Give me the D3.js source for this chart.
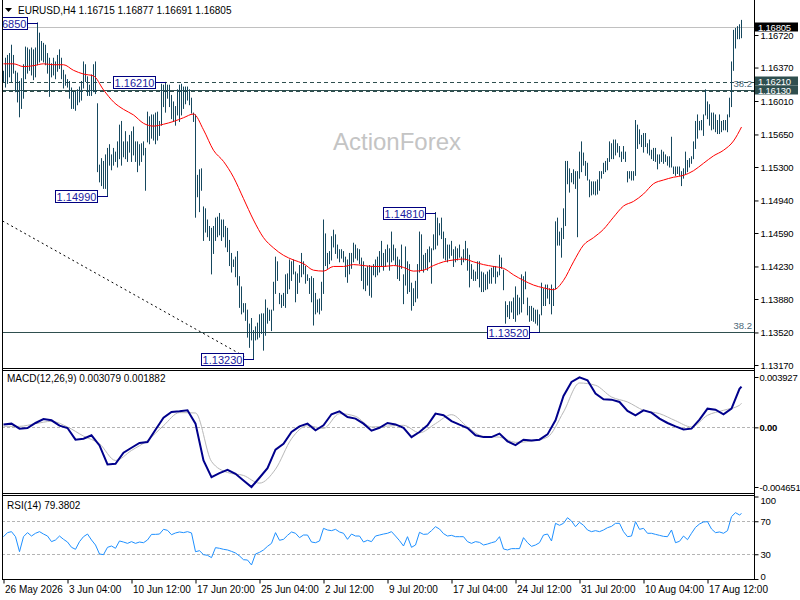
<!DOCTYPE html>
<html>
<head>
<meta charset="utf-8">
<script src="https://cdn.jsdelivr.net/npm/d3@7"></script>
<style>
  body { margin: 0; background: #fff; }
  text { font-family: "Liberation Sans", Arial, sans-serif; }
</style>
</head>
<body>
<div id="chart"></div>
<script>
// EURUSD H4 bars, one per 4 hours
var barHigh = [
  1.1633,1.1647,1.1650,1.1652,1.1661,1.1650,1.1633,1.1631,1.1622,1.1625,
  1.1640,1.1659,1.1658,1.1656,1.1658,1.1656,1.1658,1.1685,1.1674,1.1665,
  1.1663,1.1661,1.1652,1.1647,1.1641,1.1647,1.1643,1.1650,1.1656,1.1647,
  1.1634,1.1629,1.1624,1.1622,1.1615,1.1611,1.1611,1.1613,1.1616,1.1622,
  1.1643,1.1640,1.1627,1.1618,1.1629,1.1640,1.1643,1.1598,1.1532,1.1539,
  1.1536,1.1543,1.1550,1.1554,1.1543,1.1550,1.1546,1.1557,1.1575,1.1579,
  1.1557,1.1568,1.1557,1.1564,1.1568,1.1573,1.1557,1.1557,1.1554,1.1555,
  1.1557,1.1550,1.1589,1.1584,1.1586,1.1586,1.1588,1.1589,1.1579,1.1619,
  1.1618,1.1621,1.1618,1.1618,1.1607,1.1600,1.1595,1.1613,1.1618,1.1619,
  1.1616,1.1616,1.1616,1.1613,1.1604,1.1588,1.1586,1.1521,1.1527,1.1528,
  1.1487,1.1485,1.1473,1.1466,1.1464,1.1466,1.1475,1.1476,1.1480,1.1473,
  1.1473,1.1466,1.1464,1.1451,1.1437,1.1430,1.1433,1.1439,1.1412,1.1401,
  1.1383,1.1383,1.1376,1.1361,1.1367,1.1354,1.1358,1.1362,1.1371,1.1372,
  1.1372,1.1387,1.1378,1.1376,1.1376,1.1406,1.1433,1.1428,1.1394,1.1392,
  1.1394,1.1414,1.1415,1.1430,1.1428,1.1430,1.1417,1.1415,1.1424,1.1437,
  1.1428,1.1423,1.1414,1.1410,1.1412,1.1410,1.1394,1.1387,1.1388,1.1406,
  1.1473,1.1458,1.1437,1.1439,1.1455,1.1462,1.1457,1.1446,1.1441,1.1441,
  1.1439,1.1433,1.1430,1.1437,1.1437,1.1448,1.1446,1.1442,1.1441,1.1432,
  1.1428,1.1421,1.1423,1.1424,1.1423,1.1425,1.1430,1.1433,1.1439,1.1450,
  1.1437,1.1441,1.1446,1.1442,1.1460,1.1446,1.1442,1.1433,1.1430,1.1446,
  1.1414,1.1444,1.1428,1.1425,1.1405,1.1399,1.1407,1.1425,1.1460,1.1457,
  1.1435,1.1437,1.1441,1.1444,1.1442,1.1457,1.1481,1.1475,1.1469,1.1475,
  1.1460,1.1453,1.1446,1.1446,1.1450,1.1441,1.1444,1.1442,1.1446,1.1433,
  1.1441,1.1450,1.1442,1.1435,1.1425,1.1419,1.1417,1.1428,1.1428,1.1417,
  1.1416,1.1414,1.1417,1.1419,1.1421,1.1423,1.1423,1.1417,1.1435,1.1432,
  1.1419,1.1385,1.1381,1.1385,1.1385,1.1389,1.1401,1.1392,1.1389,1.1414,
  1.1412,1.1417,1.1389,1.1380,1.1380,1.1378,1.1376,1.1376,1.1371,1.1405,
  1.1399,1.1403,1.1403,1.1399,1.1403,1.1399,1.1471,1.1475,1.1460,1.1464,
  1.1485,1.1536,1.1536,1.1528,1.1523,1.1527,1.1525,1.1525,1.1546,1.1557,
  1.1545,1.1536,1.1534,1.1516,1.1514,1.1514,1.1514,1.1516,1.1525,1.1525,
  1.1534,1.1536,1.1539,1.1557,1.1555,1.1559,1.1559,1.1555,1.1552,1.1546,
  1.1552,1.1546,1.1525,1.1525,1.1525,1.1525,1.1580,1.1575,1.1570,1.1564,
  1.1566,1.1566,1.1555,1.1559,1.1548,1.1550,1.1550,1.1543,1.1543,1.1548,
  1.1546,1.1543,1.1541,1.1541,1.1562,1.1530,1.1530,1.1530,1.1530,1.1525,
  1.1528,1.1546,1.1537,1.1539,1.1541,1.1557,1.1579,1.1586,1.1579,1.1580,
  1.1586,1.1613,1.1600,1.1597,1.1588,1.1588,1.1586,1.1580,1.1586,1.1579,
  1.1580,1.1580,1.1586,1.1604,1.1643,1.1677,1.1679,1.1681,1.1683,1.16877
];
var barLow = [
  1.1622,1.1616,1.1620,1.1627,1.1622,1.1631,1.1611,1.1600,1.1584,1.1593,
  1.1604,1.1625,1.1631,1.1634,1.1629,1.1624,1.1627,1.1640,1.1643,1.1645,
  1.1643,1.1640,1.1631,1.1606,1.1627,1.1629,1.1625,1.1633,1.1636,1.1625,
  1.1615,1.1618,1.1616,1.1604,1.1593,1.1593,1.1591,1.1597,1.1600,1.1602,
  1.1615,1.1622,1.1607,1.1607,1.1607,1.1611,1.1609,1.1525,1.1514,1.1510,
  1.1507,1.1507,1.1499,1.1532,1.1527,1.1532,1.1536,1.1530,1.1539,1.1532,
  1.1541,1.1539,1.1536,1.1546,1.1536,1.1543,1.1536,1.1525,1.1532,1.1536,
  1.1543,1.1505,1.1557,1.1555,1.1561,1.1559,1.1555,1.1559,1.1564,1.1575,
  1.1595,1.1589,1.1604,1.1595,1.1582,1.1579,1.1575,1.1586,1.1579,1.1586,
  1.1593,1.1598,1.1602,1.1597,1.1588,1.1579,1.1476,1.1498,1.1482,1.1505,
  1.1451,1.1460,1.1455,1.1451,1.1415,1.1437,1.1451,1.1455,1.1457,1.1451,
  1.1455,1.1444,1.1439,1.1424,1.1417,1.1423,1.1412,1.1403,1.1379,1.1372,
  1.1374,1.1365,1.1347,1.1336,1.1344,1.1323,1.1344,1.1345,1.1347,1.1351,
  1.1333,1.1349,1.1362,1.1365,1.1354,1.1376,1.1394,1.1408,1.1383,1.1379,
  1.1381,1.1379,1.1394,1.1399,1.1408,1.1415,1.1385,1.1394,1.1406,1.1412,
  1.1415,1.1405,1.1408,1.1394,1.1385,1.1360,1.1372,1.1374,1.1372,1.1376,
  1.1394,1.1424,1.1421,1.1426,1.1430,1.1444,1.1437,1.1432,1.1428,1.1432,
  1.1428,1.1412,1.1406,1.1415,1.1421,1.1428,1.1432,1.1430,1.1426,1.1408,
  1.1399,1.1397,1.1403,1.1392,1.1390,1.1414,1.1412,1.1414,1.1417,1.1423,
  1.1419,1.1423,1.1428,1.1419,1.1428,1.1430,1.1425,1.1410,1.1408,1.1421,
  1.1383,1.1403,1.1394,1.1396,1.1376,1.1381,1.1385,1.1389,1.1417,1.1419,
  1.1417,1.1421,1.1419,1.1428,1.1405,1.1441,1.1442,1.1446,1.1457,1.1453,
  1.1432,1.1430,1.1428,1.1432,1.1435,1.1423,1.1428,1.1430,1.1433,1.1425,
  1.1428,1.1430,1.1419,1.1401,1.1410,1.1408,1.1408,1.1410,1.1401,1.1396,
  1.1396,1.1398,1.1399,1.1405,1.1405,1.1412,1.1405,1.1412,1.1414,1.1421,
  1.1398,1.1362,1.1369,1.1367,1.1374,1.1367,1.1364,1.1371,1.1372,1.1374,
  1.1383,1.1399,1.1371,1.1364,1.1365,1.1364,1.1362,1.1360,1.1352,1.1371,
  1.1381,1.1381,1.1389,1.1383,1.1372,1.1381,1.1399,1.1446,1.1446,1.1433,
  1.1453,1.1467,1.1512,1.1503,1.1514,1.1512,1.1507,1.1455,1.1518,1.1525,
  1.1532,1.1521,1.1516,1.1498,1.1500,1.1501,1.1500,1.1501,1.1505,1.1518,
  1.1523,1.1525,1.1527,1.1536,1.1539,1.1539,1.1543,1.1546,1.1541,1.1536,
  1.1539,1.1536,1.1514,1.1518,1.1516,1.1516,1.1521,1.1550,1.1555,1.1552,
  1.1546,1.1552,1.1545,1.1543,1.1539,1.1537,1.1536,1.1528,1.1534,1.1536,
  1.1534,1.1536,1.1532,1.1530,1.1530,1.1523,1.1521,1.1523,1.1521,1.1510,
  1.1518,1.1523,1.1525,1.1530,1.1534,1.1539,1.1550,1.1561,1.1570,1.1570,
  1.1564,1.1586,1.1582,1.1575,1.1570,1.1571,1.1568,1.1566,1.1566,1.1568,
  1.1570,1.1570,1.1568,1.1584,1.1595,1.1634,1.1658,1.1668,1.1668,1.16691
];

// red moving average, one reading every 5 bars (last one = last bar)
var maStep = 5;
var maLine = [
  1.1641,1.1641,1.1638,1.1639,1.1641,1.1640,1.1640,1.1634,1.1630,1.1628,
  1.1613,1.1600,1.1592,1.1586,1.1577,1.1574,1.1576,1.1579,1.1583,1.1587,
  1.1570,1.1548,1.1536,1.1519,1.1496,1.1473,1.1454,1.1443,1.1435,1.1430,
  1.1426,1.1419,1.1418,1.1423,1.1423,1.1425,1.1424,1.1423,1.1423,1.1424,
  1.1422,1.1418,1.1419,1.1424,1.1428,1.1430,1.1431,1.1428,1.1425,1.1423,
  1.1421,1.1414,1.1408,1.1403,1.1400,1.1398,1.1408,1.1428,1.1446,1.1454,
  1.1463,1.1476,1.1488,1.1493,1.1501,1.1512,1.1516,1.1519,1.1521,1.1526,
  1.1534,1.1542,1.1548,1.1558,1.1573
];

// MACD main every 4 bars, signal every 8 bars
var macdStep = 4;
var macdMain = [
  0.00023,0.00029,-0.00010,-0.00005,0.00034,0.00065,0.00055,0.00013,-0.00005,-0.00096,
  -0.00089,-0.00062,-0.00141,-0.00289,-0.00284,-0.00198,-0.00159,-0.00122,-0.00115,-0.00018,
  0.00076,0.00120,0.00125,0.00133,0.00029,-0.00258,-0.00388,-0.00357,-0.00331,-0.00362,
  -0.00414,-0.00465,-0.00393,-0.00318,-0.00174,-0.00128,-0.00036,0.00008,0.00029,-0.00023,
  0.00016,0.00102,0.00125,0.00081,0.00068,0.00029,-0.00026,-0.00003,0.00034,0.00023,
  -0.00003,-0.00076,-0.00036,0.00016,0.00107,0.00094,0.00049,0.00021,-0.00005,-0.00062,
  -0.00076,-0.00076,-0.00049,-0.00109,-0.00138,-0.00096,-0.00102,-0.00096,-0.00055,0.00055,
  0.00245,0.00354,0.00390,0.00367,0.00263,0.00219,0.00216,0.00198,0.00128,0.00094,
  0.00133,0.00115,0.00068,0.00034,0.00008,-0.00016,-0.00010,0.00060,0.00146,0.00138,
  0.00102,0.00146,0.00300,0.00318
];
var signalStep = 8;
var macdSignal = [
  0.00008,0.00008,0.00029,0.00047,0.00003,-0.00068,-0.00128,-0.00258,-0.00180,-0.00102,
  0.00013,0.00115,0.00112,-0.00266,-0.00352,-0.00375,-0.00435,-0.00326,-0.00089,0.00013,
  -0.00008,0.00107,0.00086,0.00003,0.00010,0.00016,-0.00042,0.00029,0.00099,0.00003,
  -0.00070,-0.00076,-0.00117,-0.00107,-0.00076,0.00120,0.00346,0.00328,0.00237,0.00198,
  0.00133,0.00107,0.00052,0.00003,0.00094,0.00133,0.00172,0.00188
];

// RSI(14) every 2 bars
var rsiStep = 2;
var rsiVals = [
  51.3,56.2,57.4,51.3,33.1,51.3,56.2,52.1,55.4,57.4,
  54.5,52.1,45.3,47.3,52.1,48.1,44.8,38.4,36.0,45.3,
  51.3,54.5,47.3,41.2,30.3,29.5,38.4,40.0,37.2,46.1,
  44.8,43.2,45.3,43.2,44.8,44.0,47.3,54.1,54.1,54.5,
  60.2,59.0,53.7,55.8,57.0,56.2,57.4,55.8,33.1,34.3,
  29.5,28.7,25.9,38.0,37.2,36.0,35.2,33.5,31.5,27.9,
  23.4,23.0,17.0,30.3,32.3,35.2,39.6,43.2,56.2,46.9,
  48.1,52.9,57.0,55.4,50.1,53.3,53.3,44.8,44.0,46.1,
  61.4,59.4,58.6,60.2,57.0,55.4,48.1,54.5,52.1,52.1,
  44.8,46.9,45.3,52.1,53.3,54.5,55.4,57.4,52.1,46.5,
  40.0,51.3,38.4,41.2,56.6,54.1,54.5,58.6,63.4,60.6,
  55.0,52.1,52.9,51.3,51.3,51.3,45.3,43.2,45.3,44.4,
  41.2,42.4,44.0,45.3,51.3,36.4,35.2,36.8,36.8,36.8,
  50.1,44.0,39.6,41.2,44.0,53.3,54.5,46.1,67.5,65.1,
  67.5,74.3,70.3,63.4,68.7,65.1,59.4,57.4,58.6,57.4,
  59.4,62.2,63.8,67.5,67.5,57.4,51.3,52.1,69.5,60.2,
  61.4,55.4,55.4,54.1,52.9,51.7,51.3,59.4,44.0,45.7,
  52.1,47.7,55.4,62.6,66.7,69.1,69.5,60.6,56.2,57.0,
  55.4,58.6,75.6,80.4,77.6,79.38
];

var priceTicks = [1.1672, 1.1637, 1.1601, 1.1565, 1.1530, 1.1494, 1.1459, 1.1423, 1.1388, 1.1352, 1.1317];
var macdTicks = [0.003927, 0, -0.004651];
var macdTickLabels = ["0.003927", "0.00", "-0.004651"];
var rsiTicks = [100, 70, 30, 0];
var timeTickBars = [0, 32, 64, 96, 128, 160, 192, 224, 256, 288, 320, 352];
var timeTickLabels = ["26 May 2026", "3 Jun 04:00", "10 Jun 12:00", "17 Jun 20:00", "25 Jun 04:00", "2 Jul 12:00",
  "9 Jul 20:00", "17 Jul 04:00", "24 Jul 12:00", "31 Jul 20:00", "10 Aug 04:00", "17 Aug 12:00"];

// swing high / low tags
var markBars = [17, 81, 52, 125, 216, 268];
var markPrices = [1.1685, 1.1621, 1.1499, 1.1323, 1.1481, 1.1352];
var markLabels = ["1.16850", "1.16210", "1.14990", "1.13230", "1.14810", "1.13520"];

// drawn objects
var trendBars = [0, 121];
var trendPrices = [1.1472, 1.13256];
var solidLevels = [1.1613, 1.1352];
var dashedLevels = [1.1621, 1.1613];
var fiboLevels = [1.1621, 1.1352];
var bidPrice = 1.16805;
var rightTags = [1.16805, 1.1621, 1.1613];
var rightTagText = ["1.16805", "1.16210", "1.16130"];

var headerSymbol = "EURUSD,H4";
var headerOHLC = "1.16715 1.16877 1.16691 1.16805";
var macdTitle = "MACD(12,26,9) 0.003079 0.001882";
var rsiTitle = "RSI(14) 79.3802";


var W = 800, H = 600;
var left = 2, right = 754;
var mainBot = 368, macdTop = 370, macdBot = 493, rsiTop = 495, rsiBot = 579;
var barColor = "#16485e";
var axisFont = 9.5;

var svg = d3.select("#chart").append("svg")
  .attr("width", W).attr("height", H)
  .style("display", "block");

var lastBar = barHigh.length - 1;
var x = d3.scaleLinear().domain([0, lastBar]).range([3.5, 3.5 + 2 * lastBar]);
var y = d3.scaleLinear().domain([1.1317, 1.1672]).range([365, 35]);
var yM = d3.scaleLinear().domain([-0.004651, 0.003927]).range([487, 377]);
var yR = d3.scaleLinear().domain([0, 100]).range([579, 496.5]);

// step arrays -> [barIndex, value]
const stepped = (arr, step) => arr.map((v, k) => [Math.min(k * step, lastBar), v]);

var defs = svg.append("defs");
const addClip = (id, y0, y1) => {
  defs.append("clipPath").attr("id", id).append("rect")
    .attr("x", left + 1).attr("y", y0).attr("width", right - left - 1).attr("height", y1 - y0);
};
addClip("clipMain", 0, mainBot);
addClip("clipMacd", macdTop + 1, macdBot);
addClip("clipRsi", rsiTop + 1, rsiBot);

// ---------- main price panel ----------
var gMain = svg.append("g").attr("clip-path", "url(#clipMain)");

gMain.append("text")
  .attr("x", 333).attr("y", 150)
  .attr("font-size", 24).attr("fill", "#c4c4c4")
  .text("ActionForex");

// bid line
gMain.append("line")
  .attr("x1", left).attr("x2", right)
  .attr("y1", Math.round(y(bidPrice)) + 0.5).attr("y2", Math.round(y(bidPrice)) + 0.5)
  .attr("stroke", "#c0c0c0");

gMain.selectAll("line.solidLevel").data(solidLevels).join("line")
  .attr("class", "solidLevel")
  .attr("x1", left).attr("x2", right)
  .attr("y1", d => Math.round(y(d)) + 0.5).attr("y2", d => Math.round(y(d)) + 0.5)
  .attr("stroke", "#2f4f4f");

gMain.selectAll("line.dashLevel").data(dashedLevels).join("line")
  .attr("class", "dashLevel")
  .attr("x1", left).attr("x2", right)
  .attr("y1", (d, k) => Math.round(y(d)) + 0.5 + k).attr("y2", (d, k) => Math.round(y(d)) + 0.5 + k)
  .attr("stroke", "#2f4f4f").attr("stroke-dasharray", "4,3");

gMain.selectAll("text.fibo").data(fiboLevels).join("text")
  .attr("class", "fibo")
  .attr("x", 752).attr("y", d => y(d) + (d > 1.15 ? 5 : -3))
  .attr("text-anchor", "end")
  .attr("font-size", 9.5).attr("fill", "#4a6878")
  .text("38.2");

// dotted trend line
gMain.append("line")
  .attr("x1", x(trendBars[0]) - 1).attr("y1", y(trendPrices[0]))
  .attr("x2", x(trendBars[1])).attr("y2", y(trendPrices[1]))
  .attr("stroke", "#000").attr("stroke-dasharray", "2,3");

// bars
gMain.selectAll("line.bar").data(d3.range(barHigh.length)).join("line")
  .attr("class", "bar")
  .attr("x1", i => x(i)).attr("x2", i => x(i))
  .attr("y1", i => y(barHigh[i]) - 0.5).attr("y2", i => y(barLow[i]) + 0.5)
  .attr("stroke", barColor).attr("stroke-width", 1);

// moving average
gMain.append("path")
  .datum(stepped(maLine, maStep))
  .attr("fill", "none").attr("stroke", "#ff0000").attr("stroke-width", 1)
  .attr("d", d3.line().x(d => x(d[0])).y(d => y(d[1])).curve(d3.curveMonotoneX));

// swing tags
var marks = markBars.map((b, k) => ({ b: b, p: markPrices[k], t: markLabels[k] }));
var mg = gMain.selectAll("g.mark").data(marks).join("g").attr("class", "mark");
mg.append("line")
  .attr("x1", d => x(d.b) - 10).attr("x2", d => x(d.b) + 0.5)
  .attr("y1", d => Math.round(y(d.p)) + 0.5).attr("y2", d => Math.round(y(d.p)) + 0.5)
  .attr("stroke", "#000080");
mg.append("rect")
  .attr("x", d => x(d.b) - 52).attr("y", d => Math.round(y(d.p)) - 5.5)
  .attr("width", 42).attr("height", 12)
  .attr("fill", "#fff").attr("stroke", "#000080");
mg.append("text")
  .attr("x", d => x(d.b) - 31).attr("y", d => Math.round(y(d.p)) + 4.5)
  .attr("text-anchor", "middle")
  .attr("font-size", 11).attr("fill", "#1a1aa0")
  .text(d => d.t);

// header
svg.append("path").attr("d", "M5,8 L12,8 L8.5,12 Z").attr("fill", "#000");
svg.append("text").attr("x", 18).attr("y", 14).attr("font-size", 10).attr("fill", "#000")
  .text(headerSymbol + "  " + headerOHLC);

// ---------- MACD panel ----------
var gMacd = svg.append("g").attr("clip-path", "url(#clipMacd)");
gMacd.append("line")
  .attr("x1", left).attr("x2", right)
  .attr("y1", Math.round(yM(0)) + 0.5).attr("y2", Math.round(yM(0)) + 0.5)
  .attr("stroke", "#b4b4b4").attr("stroke-dasharray", "3,2");
gMacd.append("path")
  .datum(stepped(macdSignal, signalStep))
  .attr("fill", "none").attr("stroke", "#b8b8b8").attr("stroke-width", 1)
  .attr("d", d3.line().x(d => x(d[0])).y(d => yM(d[1])).curve(d3.curveMonotoneX));
gMacd.append("path")
  .datum(stepped(macdMain, macdStep))
  .attr("fill", "none").attr("stroke", "#00008b").attr("stroke-width", 2)
  .attr("d", d3.line().x(d => x(d[0])).y(d => yM(d[1])));
svg.append("text").attr("x", 7).attr("y", 382).attr("font-size", 10).attr("fill", "#000").text(macdTitle);

// ---------- RSI panel ----------
var gRsi = svg.append("g").attr("clip-path", "url(#clipRsi)");
gRsi.selectAll("line.lvl").data([70, 30]).join("line")
  .attr("class", "lvl")
  .attr("x1", left).attr("x2", right)
  .attr("y1", d => Math.round(yR(d)) + 0.5).attr("y2", d => Math.round(yR(d)) + 0.5)
  .attr("stroke", "#b4b4b4").attr("stroke-dasharray", "3,2");
gRsi.append("path")
  .datum(stepped(rsiVals, rsiStep))
  .attr("fill", "none").attr("stroke", "#1e90ff").attr("stroke-width", 1)
  .attr("d", d3.line().x(d => x(d[0])).y(d => yR(d[1])));
svg.append("text").attr("x", 7).attr("y", 509).attr("font-size", 10).attr("fill", "#000").text(rsiTitle);

// ---------- frames ----------
var frame = svg.append("g").attr("stroke", "#000").attr("shape-rendering", "crispEdges");
frame.append("line").attr("x1", left + 0.5).attr("x2", left + 0.5).attr("y1", 0).attr("y2", rsiBot + 0.5);
[mainBot, macdTop, macdBot, rsiTop, rsiBot].forEach(v => {
  frame.append("line").attr("x1", left).attr("x2", right + 1).attr("y1", v + 0.5).attr("y2", v + 0.5);
});

// ---------- axes ----------
const styleAxis = g => {
  g.selectAll("text").attr("font-family", "Liberation Sans, Arial, sans-serif")
    .attr("font-size", axisFont).attr("letter-spacing", -0.2).attr("fill", "#000");
  g.selectAll("line").attr("stroke", "#000");
  g.select(".domain").attr("stroke", "#000");
};

svg.append("g")
  .attr("transform", "translate(" + (right + 0.5) + ",0)")
  .call(d3.axisRight(y).tickValues(priceTicks).tickFormat(d3.format(".5f")).tickSize(4).tickPadding(2).tickSizeOuter(0))
  .call(g => g.select(".domain").attr("d", "M0,0V" + (rsiBot + 1)))
  .call(styleAxis);

svg.append("g")
  .attr("transform", "translate(" + (right + 0.5) + ",0)")
  .call(d3.axisRight(yM).tickValues(macdTicks).tickFormat((d, k) => macdTickLabels[k]).tickSize(4).tickPadding(1))
  .call(g => g.select(".domain").remove())
  .call(styleAxis)
  .call(g => g.selectAll(".tick text").attr("font-weight", d => d === 0 ? "bold" : null));

svg.append("g")
  .attr("transform", "translate(" + (right + 0.5) + ",0)")
  .call(d3.axisRight(yR).tickValues(rsiTicks).tickSize(4).tickPadding(2))
  .call(g => g.select(".domain").remove())
  .call(styleAxis)
  .call(g => g.selectAll(".tick text").attr("dy", (d) => d === 100 ? "0.75em" : d === 0 ? "0.1em" : "0.32em"));

svg.append("g")
  .attr("transform", "translate(0," + (rsiBot + 0.5) + ")")
  .call(d3.axisBottom(x).tickValues(timeTickBars).tickFormat((d, k) => timeTickLabels[k]).tickSize(4))
  .call(g => g.select(".domain").remove())
  .call(styleAxis)
  .call(g => g.selectAll(".tick text").attr("text-anchor", "start").attr("dx", 1).attr("y", 6)
    .attr("font-size", 10).attr("letter-spacing", 0));

// price tags on the right scale
var tg = svg.selectAll("g.rtag").data(rightTags).join("g").attr("class", "rtag");
tg.append("rect")
  .attr("x", right + 1).attr("y", (d, k) => Math.round(y(d)) - 4.5 - (k === 1 ? 1 : 0))
  .attr("width", 43).attr("height", 9)
  .attr("fill", (d, k) => k === 0 ? "#000" : "#2f4f4f");
tg.append("text")
  .attr("x", right + 4).attr("y", (d, k) => Math.round(y(d)) + 3.5 - (k === 1 ? 1 : 0))
  .attr("font-size", axisFont).attr("letter-spacing", -0.2).attr("fill", "#fff")
  .text((d, k) => rightTagText[k]);
</script>
</body>
</html>
